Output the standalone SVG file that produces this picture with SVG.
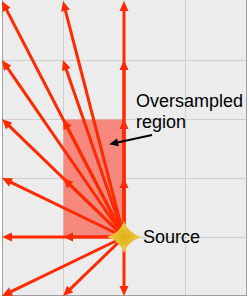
<svg xmlns="http://www.w3.org/2000/svg" width="249" height="298" viewBox="0 0 249 298">
<style>
.grid{stroke:#cfcfcf;stroke-width:1;fill:none}
.ray{stroke:#ff2a00;stroke-width:3;fill:none;marker-end:url(#ah)}
.lbl{font-family:"Liberation Sans",Arial,sans-serif;font-size:18px;fill:#000}
</style>
<defs>
<marker id="ah" markerUnits="userSpaceOnUse" markerWidth="10" markerHeight="9" refX="4" refY="4.5" orient="auto" overflow="visible">
<path d="M0,0 L10,4.5 L0,9 z" fill="#ff2a00"/>
</marker>
<marker id="bh" markerUnits="userSpaceOnUse" markerWidth="9" markerHeight="8" refX="3" refY="4" orient="auto" overflow="visible">
<path d="M0,0 L9,4 L0,8 z" fill="#000"/>
</marker>
<radialGradient id="sg" cx="0.5" cy="0.5" r="0.5">
<stop offset="0" stop-color="#dcae10"/>
<stop offset="1" stop-color="#f2d050"/>
</radialGradient>
</defs>
<rect x="2.5" y="-1" width="244" height="296.5" fill="#ececec" stroke="#a0a0a0" stroke-width="1"/>
<g id="grid">
<path class="grid" d="M63.5,0 V295 M124.5,0 V295 M185.5,0 V295 M3,60.5 H246 M3,119.5 H246 M3,178.5 H246 M3,237.5 H246"/>
</g>
<g id="oversampled-region">
<rect x="63.5" y="119.5" width="61" height="118" fill="#f7887e"/>
</g>
<g id="connectors">
<line class="ray" x1="124" y1="237" x2="4.76" y2="6.33"/>
<line class="ray" x1="124" y1="237" x2="64.5" y2="6.81"/>
<line class="ray" x1="124" y1="237" x2="124" y2="7"/>
<line class="ray" x1="124" y1="237" x2="5.41" y2="64.94"/>
<line class="ray" x1="124" y1="237" x2="64.95" y2="65.67"/>
<line class="ray" x1="124" y1="237" x2="124" y2="66"/>
<line class="ray" x1="124" y1="237" x2="6.31" y2="123.17"/>
<line class="ray" x1="124" y1="237" x2="65.76" y2="124.33"/>
<line class="ray" x1="124" y1="237" x2="124" y2="125"/>
<line class="ray" x1="124" y1="237" x2="7.4" y2="180.61"/>
<line class="ray" x1="124" y1="237" x2="67.31" y2="182.17"/>
<line class="ray" x1="124" y1="237" x2="124" y2="184"/>
<line class="ray" x1="124" y1="237" x2="8" y2="237"/>
<line class="ray" x1="124" y1="237" x2="69" y2="237"/>
<line class="ray" x1="124" y1="237" x2="7.4" y2="293.39"/>
<line class="ray" x1="124" y1="237" x2="67.31" y2="291.83"/>
<line class="ray" x1="124" y1="237" x2="124" y2="290"/>
<line x1="152" y1="135" x2="115" y2="143" stroke="#000" stroke-width="2" marker-end="url(#bh)"/>
</g>
<g id="source">
<path d="M107,237 Q120,233 124,221 Q128,233 142,237 Q128,241 124,253 Q120,241 107,237 z" fill="url(#sg)"/>
<text class="lbl" x="143" y="243">Source</text>
</g>
<g id="label">
<text class="lbl" x="136" y="107">Oversampled</text>
<text class="lbl" x="136" y="128">region</text>
</g>
</svg>
